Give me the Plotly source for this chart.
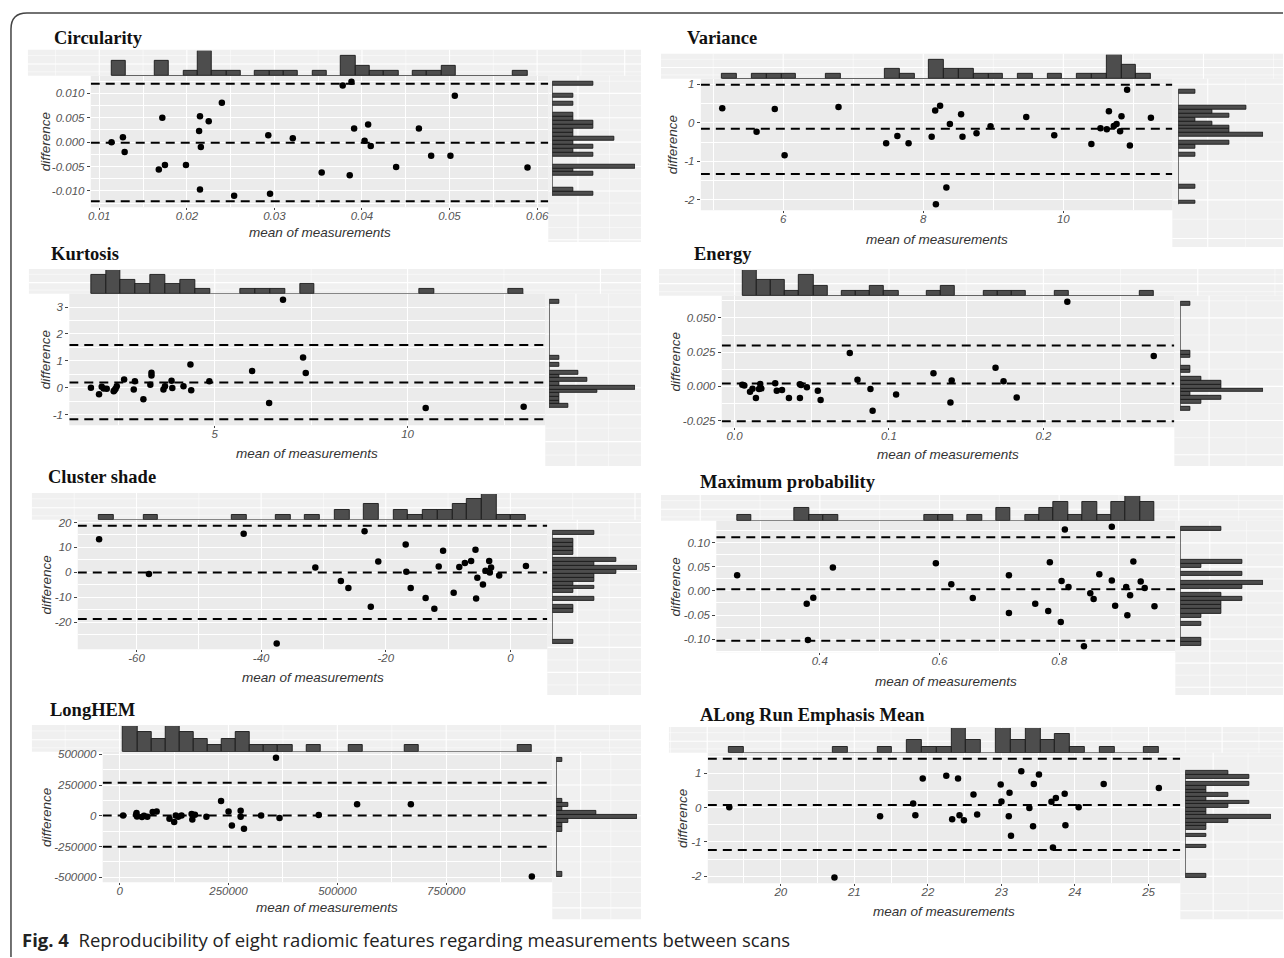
import numpy as np
import plotly.graph_objects as go

W, H = 1284, 958

# ------------------------------------------------------------------ data
titles = ["Circularity", "Variance", "Kurtosis", "Energy", "Cluster shade",
          "Maximum probability", "LongHEM", "ALong Run Emphasis Mean"]

circ_x = [0.0114, 0.0127, 0.0129, 0.0172, 0.0168, 0.0175, 0.0199, 0.0215, 0.0225, 0.0214, 0.0216,
          0.0215, 0.0240, 0.0254, 0.0293, 0.0295, 0.0321, 0.0354, 0.0378, 0.0388, 0.0386, 0.0391,
          0.0403, 0.0407, 0.0410, 0.0439, 0.0465, 0.0479, 0.0501, 0.0506, 0.0589]
circ_y = [0.0000, 0.0010, -0.0020, 0.0050, -0.0056, -0.0047, -0.0047, 0.0053, 0.0043, 0.0023, -0.0010,
          -0.0097, 0.0081, -0.0110, 0.0014, -0.0106, 0.0008, -0.0062, 0.0116, 0.0124, -0.0068, 0.0028,
          0.0003, 0.0036, -0.0008, -0.0051, 0.0028, -0.0028, -0.0028, 0.0095, -0.0052]
circ_lines = [-0.0001, 0.0120, -0.0121]
circ_xt = [0.01, 0.02, 0.03, 0.04, 0.05, 0.06]
circ_xtl = ["0.01", "0.02", "0.03", "0.04", "0.05", "0.06"]
circ_yt = [-0.010, -0.005, 0.000, 0.005, 0.010]
circ_ytl = ["-0.010", "-0.005", "0.000", "0.005", "0.010"]

var_x = [5.13, 5.62, 5.88, 6.02, 6.79, 7.47, 7.63, 7.79, 8.12, 8.17, 8.24, 8.18, 8.33, 8.38, 8.54, 8.56,
         8.76, 8.96, 9.47, 9.87, 10.40, 10.53, 10.62, 10.65, 10.72, 10.76, 10.81, 10.83, 10.91, 10.95, 11.25]
var_y = [0.38, -0.23, 0.36, -0.84, 0.41, -0.53, -0.34, -0.53, -0.36, 0.32, 0.44, -2.11, -1.68, -0.03, 0.22,
         -0.36, -0.27, -0.09, 0.15, -0.32, -0.55, -0.14, -0.17, 0.30, -0.08, -0.03, -0.22, 0.17, 0.86, -0.59, 0.13]
var_lines = [-0.155, 0.99, -1.33]
var_xt = [6, 8, 10]
var_xtl = ["6", "8", "10"]
var_yt = [-2, -1, 0, 1]
var_ytl = ["-2", "-1", "0", "1"]

kurt_x = [1.79, 2.00, 2.07, 2.12, 2.20, 2.38, 2.40, 2.43, 2.46, 2.65, 2.90, 2.93, 3.15, 3.33, 3.36, 3.36,
          3.67, 3.71, 3.88, 3.90, 4.19, 4.37, 4.39, 4.86, 5.97, 6.41, 6.77, 7.29, 7.36, 10.47, 13.01]
kurt_y = [0.00, -0.24, 0.04, -0.03, -0.04, -0.13, -0.09, -0.04, 0.06, 0.31, -0.06, 0.24, -0.43, 0.11, 0.56,
          0.46, -0.06, 0.06, 0.26, -0.01, 0.06, 0.86, -0.09, 0.24, 0.62, -0.57, 3.27, 1.12, 0.55, -0.75, -0.71]
kurt_lines = [0.20, 1.59, -1.17]
kurt_xt = [5, 10]
kurt_xtl = ["5", "10"]
kurt_yt = [-1, 0, 1, 2, 3]
kurt_ytl = ["-1", "0", "1", "2", "3"]

ener_x = [0.0050, 0.0063, 0.0100, 0.0116, 0.0138, 0.0158, 0.0166, 0.0173, 0.0263, 0.0273, 0.0307, 0.0352,
          0.0423, 0.0431, 0.0423, 0.0468, 0.0539, 0.0557, 0.0746, 0.0796, 0.0880, 0.0894, 0.1046, 0.1288,
          0.1398, 0.1406, 0.1690, 0.1742, 0.1827, 0.2155, 0.2715]
ener_y = [0.0012, 0.0007, -0.0039, -0.0017, -0.0086, -0.0020, 0.0017, -0.0015, 0.0022, -0.0032, -0.0027,
          -0.0086, 0.0015, 0.0010, -0.0086, -0.0007, -0.0032, -0.0100, 0.0243, 0.0049, -0.0020, -0.0179,
          -0.0059, 0.0096, -0.0118, 0.0042, 0.0135, 0.0037, -0.0081, 0.0618, 0.0221]
ener_lines = [0.0020, 0.0299, -0.0255]
ener_xt = [0.0, 0.1, 0.2]
ener_xtl = ["0.0", "0.1", "0.2"]
ener_yt = [-0.025, 0.000, 0.025, 0.050]
ener_ytl = ["-0.025", "0.000", "0.025", "0.050"]

clus_x = [-66.0, -58.0, -42.8, -37.5, -31.3, -27.2, -26.0, -23.4, -22.4, -21.2, -16.8, -16.7, -16.0, -13.6,
          -12.2, -11.5, -10.8, -9.1, -8.2, -7.3, -6.3, -5.6, -5.5, -5.3, -4.4, -4.0, -3.4, -3.3, -3.1, -1.8, 2.5]
clus_y = [13.3, -0.65, 15.5, -28.4, 1.95, -3.4, -6.25, 16.5, -13.7, 4.4, 11.2, 0.26, -6.25, -10.2, -14.5,
          2.35, 8.7, -8.1, 2.2, 3.8, 4.6, 9.1, -10.4, -2.1, -4.8, 0.65, 4.6, 0.0, 1.95, -1.2, 2.6]
clus_lines = [0.0, 18.7, -18.6]
clus_xt = [-60, -40, -20, 0]
clus_xtl = ["-60", "-40", "-20", "0"]
clus_yt = [-20, -10, 0, 10, 20]
clus_ytl = ["-20", "-10", "0", "10", "20"]

maxp_x = [0.2617, 0.378, 0.389, 0.380, 0.4217, 0.5939, 0.6197, 0.6556, 0.716, 0.716, 0.760, 0.7844, 0.7817,
          0.8027, 0.804, 0.8095, 0.8156, 0.852, 0.8576, 0.8414, 0.8671, 0.888, 0.888, 0.8936, 0.912, 0.914,
          0.9186, 0.924, 0.9363, 0.943, 0.9593]
maxp_y = [0.0326, -0.0264, -0.0139, -0.102, 0.0486, 0.0576, 0.0139, -0.0146, 0.0326, -0.0458, -0.0264,
          0.0597, -0.0417, -0.0646, 0.0208, 0.1278, 0.0083, -0.0049, -0.0167, -0.115, 0.0347, 0.0215, 0.1333,
          -0.0306, 0.0083, -0.0507, -0.009, 0.0611, 0.0194, 0.0063, -0.0319]
maxp_lines = [0.0035, 0.1118, -0.1035]
maxp_xt = [0.4, 0.6, 0.8]
maxp_xtl = ["0.4", "0.6", "0.8"]
maxp_yt = [-0.10, -0.05, 0.00, 0.05, 0.10]
maxp_ytl = ["-0.10", "-0.05", "0.00", "0.05", "0.10"]

lhem_x = [8100, 38900, 38000, 40000, 51300, 56000, 63600, 75900, 85100, 114500, 125300, 129000, 134600,
          142200, 165400, 167000, 173000, 199300, 233000, 250200, 257800, 278000, 278000, 285600, 325000,
          359100, 367200, 457300, 545300, 668800, 946600]
lhem_y = [2400, 21800, 8000, -5600, -10500, 0, -8000, 29800, 34700, -24200, -50800, 2400, -8000, 2400,
          13700, -29800, 8100, -8000, 121000, 34700, -78200, 40300, -8000, -104800, 2400, 471900, -18500,
          5400, 93800, 93800, -493300]
lhem_lines = [2700, 268000, -252000]
lhem_xt = [0, 250000, 500000, 750000]
lhem_xtl = ["0", "250000", "500000", "750000"]
lhem_yt = [-500000, -250000, 0, 250000, 500000]
lhem_ytl = ["-500000", "-250000", "0", "250000", "500000"]

alre_x = [19.30, 20.73, 21.35, 21.80, 21.83, 21.93, 22.25, 22.41, 22.33, 22.43, 22.49, 22.62, 22.67, 22.99,
          23.00, 23.11, 23.10, 23.13, 23.27, 23.38, 23.44, 23.43, 23.51, 23.68, 23.70, 23.74, 23.86, 23.87,
          24.05, 24.39, 25.14]
alre_y = [0.01, -2.03, -0.25, 0.12, -0.22, 0.85, 0.93, 0.85, -0.34, -0.22, -0.37, 0.38, -0.20, 0.67, 0.18,
          0.43, -0.25, -0.82, 1.06, -0.01, 0.69, -0.54, 0.96, 0.17, -1.16, 0.28, 0.40, -0.51, 0.01, 0.69, 0.57]
alre_lines = [0.077, 1.42, -1.23]
alre_xt = [20, 21, 22, 23, 24, 25]
alre_xtl = ["20", "21", "22", "23", "24", "25"]
alre_yt = [-2, -1, 0, 1]
alre_ytl = ["-2", "-1", "0", "1"]

caption_bold = "Fig. 4"
caption_text = "Reproducibility of eight radiomic features regarding measurements between scans"
x_title = "mean of measurements"
y_title = "difference"

panels = [
    (circ_x, circ_y, circ_lines, circ_xt, circ_xtl, circ_yt, circ_ytl),
    (var_x, var_y, var_lines, var_xt, var_xtl, var_yt, var_ytl),
    (kurt_x, kurt_y, kurt_lines, kurt_xt, kurt_xtl, kurt_yt, kurt_ytl),
    (ener_x, ener_y, ener_lines, ener_xt, ener_xtl, ener_yt, ener_ytl),
    (clus_x, clus_y, clus_lines, clus_xt, clus_xtl, clus_yt, clus_ytl),
    (maxp_x, maxp_y, maxp_lines, maxp_xt, maxp_xtl, maxp_yt, maxp_ytl),
    (lhem_x, lhem_y, lhem_lines, lhem_xt, lhem_xtl, lhem_yt, lhem_ytl),
    (alre_x, alre_y, alre_lines, alre_xt, alre_xtl, alre_yt, alre_ytl),
]

# ------------------------------------------------------------------ layout geometry (pixels)
geo = [
    dict(main=(88, 547, 73, 205), top=(48, 73), right=(551, 634), btop=(25, 640, 47, 73),
         bright=(547, 640, 73, 240), title=(49, 35), xty=230, ytx=43),
    dict(main=(700, 1173, 76, 208), top=(52, 76), right=(1179, 1264), btop=(660, 1284, 51, 76),
         bright=(1173, 1284, 76, 245), title=(684, 35), xty=237, ytx=671),
    dict(main=(66.5, 544, 292, 424), top=(268, 292), right=(548, 634), btop=(26, 640, 267, 292),
         bright=(544, 640, 292, 465), title=(46, 252), xty=452, ytx=43),
    dict(main=(721, 1175, 294, 426), top=(268, 294), right=(1181, 1264), btop=(658, 1284, 267, 294),
         bright=(1175, 1284, 294, 465), title=(691, 252), xty=453, ytx=675),
    dict(main=(75, 546, 519, 649), top=(493, 519), right=(551, 636), btop=(29, 640, 492, 519),
         bright=(546, 640, 519, 695), title=(43, 476), xty=677, ytx=44),
    dict(main=(715.5, 1176, 520, 652), top=(495, 520), right=(1181, 1264), btop=(660, 1284, 494, 520),
         bright=(1176, 1284, 520, 695), title=(697, 481), xty=681, ytx=675),
    dict(main=(100, 551, 752, 883), top=(726, 752), right=(555, 636), btop=(29, 640, 725, 752),
         bright=(551, 640, 752, 920), title=(45, 710), xty=908, ytx=43),
    dict(main=(707, 1181, 753, 884), top=(728, 753), right=(1186, 1272), btop=(668, 1284, 727, 753),
         bright=(1181, 1284, 753, 920), title=(697, 715), xty=912, ytx=681),
]

MAIN_BG = "#EBEBEB"
BAND_BG = "#F0F0F0"
BAR_FILL = "#4D4D4D"
BAR_EDGE = "#1A1A1A"
TICK_FONT = dict(family="Liberation Sans, Arial, sans-serif", size=11.5, color="#555555", style="italic")


def fx(px):
    return px / W


def fy(py):
    return 1 - py / H


def expand(vals):
    lo, hi = min(vals), max(vals)
    s = hi - lo
    return [lo - 0.05 * s, hi + 0.05 * s]


def minor_vals(ticks, rng):
    step = ticks[1] - ticks[0]
    vals = [ticks[0] - step / 2] + [t + step / 2 for t in ticks]
    return [v for v in vals if rng[0] <= v <= rng[1]]


fig = go.Figure()
layout = dict(width=W, height=H, margin=dict(l=0, r=0, t=0, b=0), autosize=False,
              paper_bgcolor="white", plot_bgcolor="rgba(0,0,0,0)", showlegend=False)
shapes = []
annotations = []


def hline_px(x0, x1, py, width):
    shapes.append(dict(type="line", xref="paper", yref="paper", x0=fx(x0), x1=fx(x1), y0=fy(py), y1=fy(py),
                       line=dict(color="white", width=width), layer="below"))


def vline_px(px, y0, y1, width):
    shapes.append(dict(type="line", xref="paper", yref="paper", x0=fx(px), x1=fx(px), y0=fy(y0), y1=fy(y1),
                       line=dict(color="white", width=width), layer="below"))


for i, ((xs, ys, lines, xt, xtl, yt, ytl), g) in enumerate(zip(panels, geo)):
    n_main, n_top, n_right = 3 * i + 1, 3 * i + 2, 3 * i + 3
    ax = lambda n: "" if n == 1 else str(n)
    xr = expand(xs)
    yr = expand(list(ys) + list(lines))
    x0, x1, y0, y1 = g["main"]

    # ---- backgrounds (bands first, then main panel)
    bx0, bx1, by0, by1 = g["btop"]
    shapes.append(dict(type="rect", xref="paper", yref="paper", x0=fx(bx0), x1=fx(bx1), y0=fy(by1), y1=fy(by0),
                       fillcolor=BAND_BG, line=dict(width=0), layer="below"))
    rx0, rx1, ry0, ry1 = g["bright"]
    shapes.append(dict(type="rect", xref="paper", yref="paper", x0=fx(rx0), x1=fx(rx1), y0=fy(ry1), y1=fy(ry0),
                       fillcolor=BAND_BG, line=dict(width=0), layer="below"))
    # band grid: top band
    xstep = (xt[1] - xt[0]) / 2
    d0 = xr[0] + (bx0 - x0) / (x1 - x0) * (xr[1] - xr[0])
    d1 = xr[0] + (bx1 - x0) / (x1 - x0) * (xr[1] - xr[0])
    for k in range(int(np.ceil(d0 / xstep)), int(np.floor(d1 / xstep)) + 1):
        px = x0 + (k * xstep - xr[0]) / (xr[1] - xr[0]) * (x1 - x0)
        vline_px(px, by0, by1, 1.1 if k % 2 == 0 else 0.5)
    for frac, wd in ((0.22, 0.5), (0.55, 1.1), (0.85, 0.5)):
        hline_px(bx0, bx1, by0 + frac * (by1 - by0), wd)
    # band grid: right band
    ystep = (yt[1] - yt[0]) / 2
    e0 = yr[0] + (y1 - ry1) / (y1 - y0) * (yr[1] - yr[0])
    e1 = yr[0] + (y1 - ry0) / (y1 - y0) * (yr[1] - yr[0])
    for k in range(int(np.ceil(e0 / ystep)), int(np.floor(e1 / ystep)) + 1):
        py = y1 - (k * ystep - yr[0]) / (yr[1] - yr[0]) * (y1 - y0)
        hline_px(rx0, rx1, py, 1.1 if k % 2 == 0 else 0.5)
    for frac, wd in ((0.32, 1.1), (0.66, 0.5)):
        vline_px(rx0 + frac * (rx1 - rx0), ry0, ry1, wd)

    shapes.append(dict(type="rect", xref="paper", yref="paper", x0=fx(x0), x1=fx(x1), y0=fy(y1), y1=fy(y0),
                       fillcolor=MAIN_BG, line=dict(width=0), layer="below"))

    # ---- main axes
    layout["xaxis" + ax(n_main)] = dict(
        domain=[fx(x0), fx(x1)], range=xr, anchor="y" + ax(n_main),
        tickmode="array", tickvals=xt, ticktext=xtl, showgrid=True, gridcolor="white", gridwidth=1.2,
        zeroline=False, showline=False, ticks="outside", ticklen=2, tickwidth=1, tickcolor="#444444",
        tickfont=TICK_FONT, ticklabelstandoff=-4,
        minor=dict(tickmode="array", tickvals=minor_vals(xt, xr), showgrid=True, gridcolor="white",
                   gridwidth=0.5, ticks=""),
        fixedrange=True)
    layout["yaxis" + ax(n_main)] = dict(
        domain=[fy(y1), fy(y0)], range=yr, anchor="x" + ax(n_main),
        tickmode="array", tickvals=yt, ticktext=ytl, showgrid=True, gridcolor="white", gridwidth=1.2,
        zeroline=False, showline=False, ticks="outside", ticklen=3, tickwidth=1, tickcolor="#444444",
        tickfont=TICK_FONT,
        minor=dict(tickmode="array", tickvals=minor_vals(yt, yr), showgrid=True, gridcolor="white",
                   gridwidth=0.5, ticks=""),
        fixedrange=True)

    # ---- histograms (29 equal bins spanning the data range)
    xcounts, xedges = np.histogram(xs, bins=29, range=(min(xs), max(xs)))
    ycounts, yedges = np.histogram(ys, bins=29, range=(min(ys), max(ys)))
    xw = xedges[1] - xedges[0]
    yw = yedges[1] - yedges[0]
    xc = (xedges[:-1] + xedges[1:]) / 2
    yc = (yedges[:-1] + yedges[1:]) / 2

    t_top, t_base = g["top"]
    layout["xaxis" + ax(n_top)] = dict(domain=[fx(x0), fx(x1)], range=xr, visible=False,
                                       anchor="y" + ax(n_top), fixedrange=True)
    layout["yaxis" + ax(n_top)] = dict(domain=[fy(t_base), fy(t_top)], range=[0, xcounts.max()],
                                       visible=False, anchor="x" + ax(n_top), fixedrange=True)
    r_axis, r_end = g["right"]
    layout["xaxis" + ax(n_right)] = dict(domain=[fx(r_axis), fx(r_end)], range=[0, ycounts.max()],
                                         visible=False, anchor="y" + ax(n_right), fixedrange=True)
    layout["yaxis" + ax(n_right)] = dict(domain=[fy(y1), fy(y0)], range=yr, visible=False,
                                         anchor="x" + ax(n_right), fixedrange=True)

    mx = xcounts > 0
    fig.add_trace(go.Scatter(x=[xedges[0], xedges[-1]], y=[0, 0], mode="lines", cliponaxis=False,
                             line=dict(color="#333333", width=1.3), hoverinfo="skip",
                             xaxis="x" + ax(n_top), yaxis="y" + ax(n_top)))
    fig.add_trace(go.Bar(x=xc[mx], y=xcounts[mx], width=xw,
                         marker=dict(color=BAR_FILL, line=dict(color=BAR_EDGE, width=0.9)),
                         xaxis="x" + ax(n_top), yaxis="y" + ax(n_top)))
    my = ycounts > 0
    fig.add_trace(go.Scatter(x=[0, 0], y=[yedges[0], yedges[-1]], mode="lines", cliponaxis=False,
                             line=dict(color="#333333", width=1.3), hoverinfo="skip",
                             xaxis="x" + ax(n_right), yaxis="y" + ax(n_right)))
    fig.add_trace(go.Bar(y=yc[my], x=ycounts[my], width=yw, orientation="h",
                         marker=dict(color=BAR_FILL, line=dict(color=BAR_EDGE, width=0.9)),
                         xaxis="x" + ax(n_right), yaxis="y" + ax(n_right)))

    # ---- mean / limits of agreement
    for v in lines:
        fig.add_trace(go.Scatter(x=xr, y=[v, v], mode="lines",
                                 line=dict(color="black", width=2, dash="9px,6px"), hoverinfo="skip",
                                 xaxis="x" + ax(n_main), yaxis="y" + ax(n_main)))
    # ---- points
    fig.add_trace(go.Scatter(x=xs, y=ys, mode="markers", marker=dict(size=6.5, color="black"),
                             xaxis="x" + ax(n_main), yaxis="y" + ax(n_main)))

    # ---- text
    tx, ty = g["title"]
    annotations.append(dict(text="<b>%s</b>" % titles[i], x=fx(tx), y=fy(ty), xref="paper", yref="paper",
                            xanchor="left", yanchor="middle", showarrow=False,
                            font=dict(family="Liberation Serif, Times New Roman, serif", size=18.5,
                                      color="#111111")))
    annotations.append(dict(text="<i>%s</i>" % x_title, x=fx((x0 + x1) / 2), y=fy(g["xty"]), xref="paper",
                            yref="paper", xanchor="center", yanchor="middle", showarrow=False,
                            font=dict(family="Liberation Sans, Arial, sans-serif", size=13.5, color="#333333")))
    annotations.append(dict(text="<i>%s</i>" % y_title, x=fx(g["ytx"]), y=fy((y0 + y1) / 2), xref="paper",
                            yref="paper", xanchor="center", yanchor="middle", showarrow=False, textangle=-90,
                            font=dict(family="Liberation Sans, Arial, sans-serif", size=13.5, color="#333333")))

# frame with rounded top-left corner
shapes.append(dict(type="path", xref="paper", yref="paper",
                   path="M %f,%f L %f,%f Q %f,%f %f,%f L %f,%f" % (
                       fx(8), 0, fx(8), fy(26), fx(8), fy(10), fx(24), fy(10), 1.0, fy(10)),
                   line=dict(color="#444444", width=1.5), layer="above"))

annotations.append(dict(text="<b>%s</b>  %s" % (caption_bold, caption_text), x=fx(17), y=fy(940),
                        xref="paper", yref="paper", xanchor="left", yanchor="middle", showarrow=False,
                        font=dict(family="Open Sans, Noto Sans, sans-serif", size=18.5, color="#222222")))

layout["shapes"] = shapes
layout["annotations"] = annotations
layout["bargap"] = 0
fig.update_layout(**layout)
fig.write_html("out.html", config={"displayModeBar": False},
               post_script="document.body.style.margin='0px';document.body.style.overflow='hidden';")
